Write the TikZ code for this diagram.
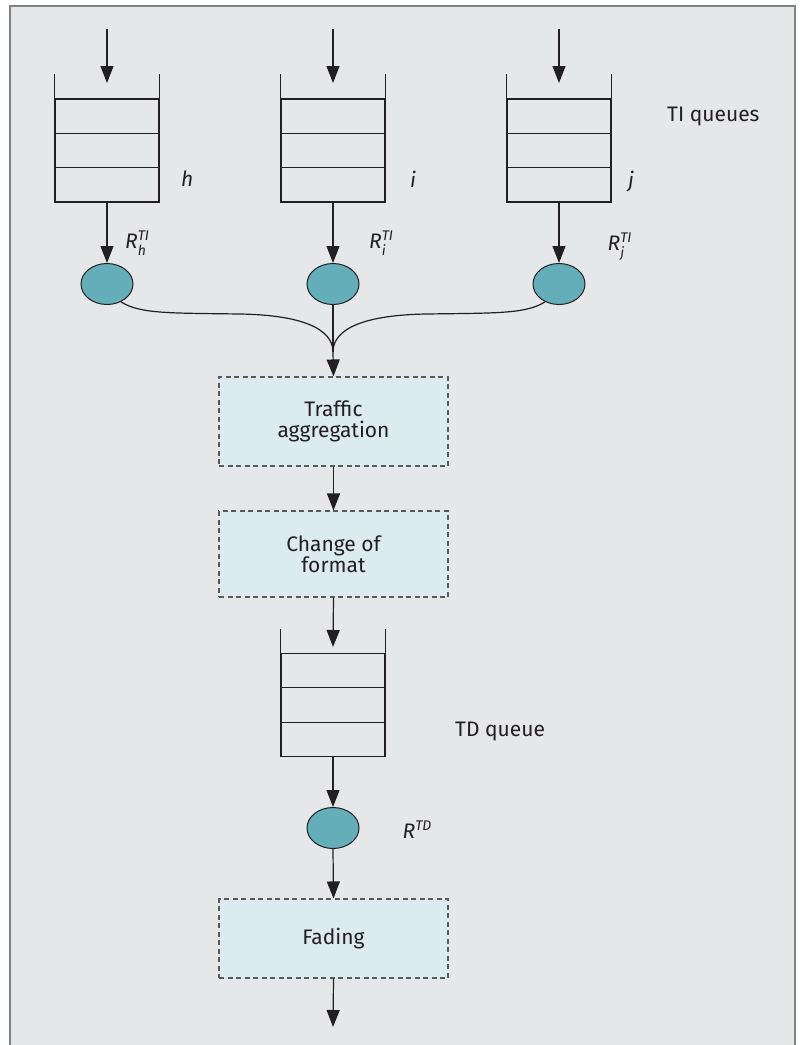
\documentclass[tikz,border=0pt]{standalone}
\usepackage{fontspec}
\setmainfont{Fira Sans}
\usetikzlibrary{arrows.meta,shapes.geometric,calc}
\definecolor{bg}{HTML}{E6E7E8}
\definecolor{frame}{HTML}{808285}
\definecolor{boxfill}{HTML}{DCEBEF}
\definecolor{teal}{HTML}{63AEB8}
\definecolor{ink}{HTML}{231F20}
\definecolor{dashc}{HTML}{58595B}
\newcommand{\scr}{\fontsize{14}{14}\selectfont\itshape}
\newcommand{\Rlab}[2]{\fontsize{21}{21}\selectfont\itshape R\rlap{\raisebox{7.6pt}{\scr #1}}\raisebox{-7pt}{\scr #2}\phantom{\scr #1}}
\begin{document}
\begin{tikzpicture}[x=1pt,y=-1pt,
  every node/.style={text=ink},
  arr/.style={draw=ink,line width=1.2pt,-{Triangle[length=17pt,width=13pt]}},
  ln/.style={draw=ink,line width=1.2pt},
  qbox/.style={draw=ink,line width=1.2pt,minimum width=104pt,minimum height=103pt,inner sep=0pt},
  srv/.style={ellipse,draw=ink,line width=1pt,fill=teal,minimum width=52pt,minimum height=41pt,inner sep=0pt},
  proc/.style={draw=dashc,line width=1.1pt,dash pattern=on 5pt off 3.5pt,fill=boxfill,minimum width=229pt,inner sep=0pt,align=center,font=\fontsize{21}{21}\selectfont},
  lab/.style={font=\fontsize{21}{21}\selectfont,inner sep=0pt,anchor=base west},
  ilab/.style={font=\fontsize{21}{21}\selectfont\itshape,inner sep=0pt,anchor=base west},
]
\useasboundingbox (0,0) rectangle (803,1045);
\fill[bg] (10,6) rectangle (795,1050);
\draw[frame,line width=1.6pt] (10,1050) -- (10,6) -- (795,6) -- (795,1050);

% TI queues
\foreach \n/\x in {h/107,i/333,j/559}{
  \node[qbox] (q\n) at (\x,150.5) {};
  \draw[ln] (q\n.north west) -- ++(0,-24);
  \draw[ln] (q\n.north east) -- ++(0,-24);
  \draw[ln] ($(q\n.north west)!1/3!(q\n.south west)$) -- ($(q\n.north east)!1/3!(q\n.south east)$);
  \draw[ln] ($(q\n.north west)!2/3!(q\n.south west)$) -- ($(q\n.north east)!2/3!(q\n.south east)$);
  \coordinate (in\n) at (\x,29);
  \coordinate (tip\n) at (\x,83);
  \draw[arr] (in\n) -- (tip\n);
  \node[srv] (e\n) at (\x,284) {};
  \draw[arr] (q\n.south) -- (e\n.north);
}

\node[ilab] (lh) at (181,186.5) {h};
\node[ilab] (li) at (410,187) {i};
\node[ilab] (lj) at (628,187) {j};
\node[lab] (tiq) at (667,121.5) {TI queues};

\node[lab] (rh) at (125,248.3) {\Rlab{TI}{h}};
\node[lab] (ri) at (369,248.3) {\Rlab{TI}{i}};
\node[lab] (rj) at (607.5,250.5) {\Rlab{TI}{j}};

% merge
\coordinate (m) at (333,352);
\node[proc,minimum height=89pt] (agg) at (333.5,421.5) {Traffic\\aggregation};
\draw[ln] (eh.-52) .. controls (140,314) and (170,313) .. (240,314) .. controls (300,315) and (333,328) .. (m);
\draw[ln] (ej.232) .. controls (526,314) and (496,313) .. (426,314) .. controls (366,315) and (333,328) .. (m);
\draw[ln] (ei.south) -- (m);
\draw[arr] (m) -- (agg.north);

\node[proc,minimum height=86pt] (fmt) at (333.5,554) {Change of\\format};
\draw[arr] (agg.south) -- (fmt.north);

% TD queue
\node[qbox] (qtd) at (333,705) {};
\draw[ln] (qtd.north west) -- ++(0,-24);
\draw[ln] (qtd.north east) -- ++(0,-24);
\draw[ln] ($(qtd.north west)!1/3!(qtd.south west)$) -- ($(qtd.north east)!1/3!(qtd.south east)$);
\draw[ln] ($(qtd.north west)!2/3!(qtd.south west)$) -- ($(qtd.north east)!2/3!(qtd.south east)$);
\coordinate (tdtip) at (333,647);
\draw[arr] (fmt.south) -- (tdtip);
\node[lab] (tdq) at (455,736.5) {TD queue};

\node[srv] (etd) at (333,828) {};
\draw[arr] (qtd.south) -- (etd.north);
\node[lab] (rtd) at (402.5,838.3) {\fontsize{21}{21}\selectfont\itshape R\raisebox{7.6pt}{\scr TD}};

\node[proc,minimum height=79pt] (fad) at (333.5,938.5) {Fading};
\draw[arr] (etd.south) -- (fad.north);
\coordinate (out) at (333,1027);
\draw[arr] (fad.south) -- (out);
\end{tikzpicture}
\end{document}
